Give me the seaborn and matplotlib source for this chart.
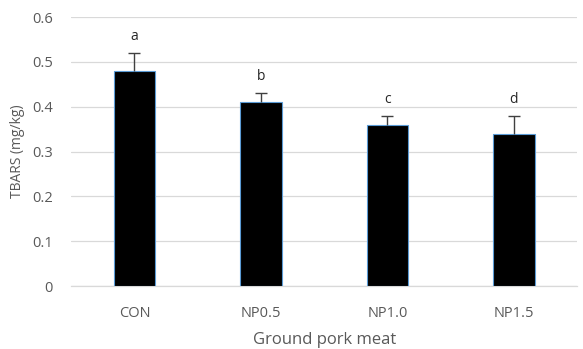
import numpy as np
import pandas as pd
import matplotlib.pyplot as plt
import seaborn as sns

groups = ['CON', 'NP0.5', 'NP1.0', 'NP1.5']
tbars = [0.48, 0.41, 0.36, 0.34]
sd = [0.04, 0.02, 0.02, 0.04]
letters = ['a', 'b', 'c', 'd']

df = pd.DataFrame({'group': groups, 'tbars': tbars, 'sd': sd})

sns.set_style('white')
plt.rcParams['font.family'] = ['Open Sans', 'DejaVu Sans']
gray = '#595959'

fig = plt.figure(figsize=(5.83, 3.49), dpi=100)
ax = fig.add_axes([0.122, 0.18, 0.868, 0.771])

sns.barplot(data=df, x='group', y='tbars', color='black', width=0.33,
            edgecolor='#5b9bd5', linewidth=0.8, ax=ax, zorder=3)

# upper error bars only
x = np.arange(len(groups))
_, caps, _ = ax.errorbar(x, df['tbars'], yerr=[np.zeros(len(sd)), df['sd']], fmt='none',
                         ecolor='#404040', elinewidth=1, capsize=4, capthick=1, zorder=4)
caps[0].set_visible(False)

for xi, top, lab in zip(x, df['tbars'] + df['sd'], letters):
    ax.text(xi, top + 0.037, lab, ha='center', va='center', fontsize=10, color='#262626')

ax.set_xlim(-0.5, len(groups) - 0.5)
ax.set_ylim(0, 0.6)
ax.set_yticks(np.arange(0, 0.61, 0.1))
ax.set_yticklabels(['0', '0.1', '0.2', '0.3', '0.4', '0.5', '0.6'])
ax.yaxis.grid(True, color='#d9d9d9', linewidth=0.9, zorder=0)
ax.set_axisbelow(True)

for s in ['top', 'right', 'left']:
    ax.spines[s].set_visible(False)
ax.spines['bottom'].set_color('#d9d9d9')
ax.spines['bottom'].set_linewidth(0.9)

ax.set_xticks(np.arange(-0.5, len(groups)), minor=True)
ax.tick_params(axis='x', which='minor', length=4, color='#d9d9d9', width=0.9)
ax.tick_params(axis='x', which='major', length=0, pad=14, labelsize=10.5, labelcolor=gray)
ax.tick_params(axis='y', length=0, pad=13, labelsize=10.5, labelcolor=gray)

ax.set_xlabel('Ground pork meat', fontsize=12, color=gray, labelpad=8)
ax.set_ylabel('TBARS (mg/kg)', fontsize=10, color=gray, labelpad=5)

fig.savefig('out.png', dpi=100)
